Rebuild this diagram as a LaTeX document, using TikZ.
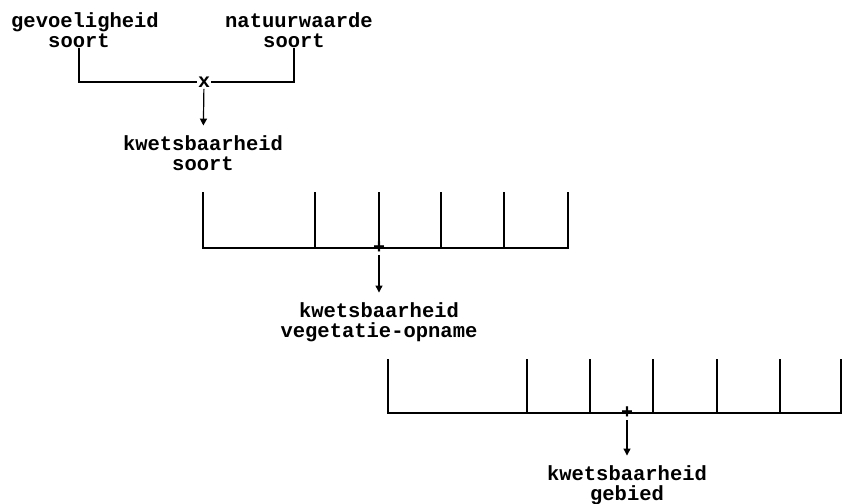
\documentclass[tikz,border=0pt]{standalone}
\usepackage{fontspec}
\setmonofont{Liberation Mono}
\usetikzlibrary{arrows.meta}
\begin{document}
\begin{tikzpicture}
        [x = 1pt, y = -1pt, line width = 1.2pt, line cap = rect,
         lbl/.style = {font = \ttfamily\bfseries\fontsize{20.5}{20}\selectfont,
                       align = center, inner sep = 0pt, anchor = base},
         teken/.style = {font = \ttfamily\bfseries\fontsize{20}{20}\selectfont,
                         inner sep = 1pt},
         pijl/.style = {-{Triangle[width = 7pt, length = 7pt]}, line cap = butt,
                        shorten > = 9pt}]
        \useasboundingbox (0,0) rectangle (842,503);

        \node[lbl] (gevA) at (85,28) {gevoeligheid};
        \node[lbl] (gev) at (79,48) {soort};
        \node[lbl] (natA) at (299,28) {natuurwaarde};
        \node[lbl] (nat) at (294,48) {soort};
        \node[teken] (maal) at (204,82) {x};
        \draw (gev) |- (maal);
        \draw (nat) |- (maal);
        \node[lbl] (kso) at (203,170) {kwetsbaarheid\\soort};
        \draw[pijl] (maal) -- (kso);

        \foreach \x in {203, 315, 379, 441, 504, 568}
          \draw (\x,193) -- (\x,248);
        \draw (203,248) -- (568,248);
        \node[teken] (som1) at (379,248) {+};
        \node[lbl] (kveg) at (379,337) {kwetsbaarheid\\vegetatie-opname};
        \draw[pijl] (som1) -- (kveg);

        \foreach \x in {388, 527, 590, 653, 717, 780, 841}
          \draw (\x,360) -- (\x,413);
        \draw (388,413) -- (841,413);
        \node[teken] (som2) at (627,413) {+};
        \node[lbl] (kgeb) at (627,500) {kwetsbaarheid\\gebied};
        \draw[pijl] (som2) -- (kgeb);
\end{tikzpicture}
\end{document}
